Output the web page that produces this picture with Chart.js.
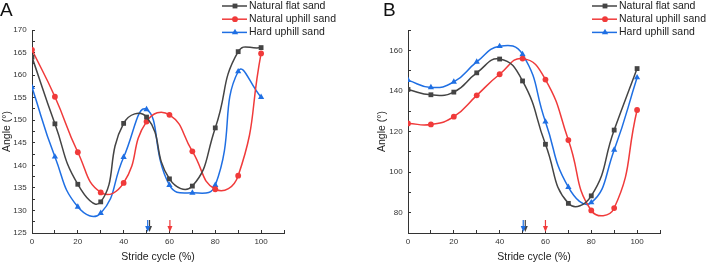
<!DOCTYPE html>
<html>
<head>
<meta charset="utf-8">
<script src="https://cdn.jsdelivr.net/npm/chart.js@4.4.1/dist/chart.umd.min.js"></script>
<style>
  body { margin: 0; background: #fff; }
  #wrap { position: relative; width: 706px; height: 264px; }
  .panel { position: absolute; top: 0; width: 353px; height: 264px; }
</style>
</head>
<body>
<div id="wrap">
  <div class="panel" style="left:0"><canvas id="chartA"></canvas></div>
  <div class="panel" style="left:353px"><canvas id="chartB"></canvas></div>
</div>
<script>
// stride cycle (%) sampled every 10
var strideCycle = [0, 10, 20, 30, 40, 50, 60, 70, 80, 90, 100];
var seriesNames = ["Natural flat sand", "Natural uphill sand", "Hard uphill sand"];

// panel A angles
var flatA   = [164.0, 149.2, 135.8, 131.9, 149.3, 150.7, 137.0, 135.4, 148.3, 165.2, 166.1];
var uphillA = [165.6, 155.2, 142.9, 134.0, 136.1, 149.7, 151.2, 143.1, 134.7, 137.7, 164.8];
var hardA   = [157.3, 141.9, 130.8, 129.4, 141.8, 152.4, 135.6, 133.9, 135.6, 160.8, 155.1];

// panel B angles
var flatB   = [140.7, 138.1, 139.4, 148.9, 155.7, 144.9, 113.7, 84.6, 88.3, 120.7, 151.0];
var uphillB = [124.0, 123.5, 127.3, 137.8, 148.2, 155.9, 145.6, 115.8, 81.1, 82.3, 130.6];
var hardB   = [145.3, 141.7, 144.4, 154.3, 162.0, 158.0, 124.8, 92.6, 85.0, 110.9, 146.6];

// arrow marks on the x axis (flat, uphill, hard)
var arrowsA = [51.3, 60.2, 50.5];
var arrowsB = [51.2, 60.0, 50.3];

var colors = ["#444444", "#f03a3a", "#1f6fe3"];
var styles = ["rect", "circle", "triangle"];
var radii = [3.4, 2.9, 3.6];

Chart.defaults.font.family = "'Liberation Sans', Arial, sans-serif";
Chart.defaults.color = "#333";

function points(vals) {
  return strideCycle.map(function (x, i) { return { x: x, y: vals[i] }; });
}

function marker(ctx, style, x, y, r) {
  ctx.beginPath();
  if (style === "rect") {
    var s = r * Math.SQRT1_2;
    ctx.rect(x - s, y - s, 2 * s, 2 * s);
  } else if (style === "circle") {
    ctx.arc(x, y, r, 0, Math.PI * 2);
  } else {
    ctx.moveTo(x, y - r);
    ctx.lineTo(x + r * 0.87, y + r * 0.5);
    ctx.lineTo(x - r * 0.87, y + r * 0.5);
    ctx.closePath();
  }
  ctx.fill();
}

var decor = {
  id: "decor",
  afterDatasetsDraw: function (chart, args, o) {
    var ctx = chart.ctx, xs = chart.scales.x, area = chart.chartArea;
    ctx.save();
    // arrows
    o.arrows.forEach(function (v, i) {
      var px = xs.getPixelForValue(v);
      var b = area.bottom;
      ctx.strokeStyle = colors[i];
      ctx.fillStyle = colors[i];
      ctx.lineWidth = 1.2;
      ctx.beginPath();
      ctx.moveTo(px, b - 13);
      ctx.lineTo(px, b - 5);
      ctx.stroke();
      ctx.beginPath();
      ctx.moveTo(px - 2.5, b - 7);
      ctx.lineTo(px + 2.5, b - 7);
      ctx.lineTo(px, b - 1);
      ctx.closePath();
      ctx.fill();
    });
    // legend
    ctx.font = "10.5px 'Liberation Sans', Arial, sans-serif";
    ctx.textBaseline = "middle";
    ctx.textAlign = "left";
    seriesNames.forEach(function (name, i) {
      var y = 6 + i * 13.2;
      ctx.strokeStyle = colors[i];
      ctx.fillStyle = colors[i];
      ctx.lineWidth = 1.5;
      ctx.beginPath();
      ctx.moveTo(o.legendX, y);
      ctx.lineTo(o.legendX + 25, y);
      ctx.stroke();
      marker(ctx, styles[i], o.legendX + 13, y, radii[i]);
      ctx.fillStyle = "#222";
      ctx.fillText(name, o.legendX + 27, y);
    });
    // panel letter
    ctx.font = "19px 'Liberation Sans', Arial, sans-serif";
    ctx.textBaseline = "alphabetic";
    ctx.fillStyle = "#111";
    ctx.fillText(o.letter, o.letterX, 16);
    ctx.restore();
  }
};

function makeChart(id, flat, uphill, hard, yMin, yMax, yStep, yLabelStep, padLeft, padRight, yWidth, deco) {
  var ctx = document.getElementById(id).getContext("2d");
  var vals = [flat, uphill, hard];
  var datasets = vals.map(function (v, i) {
    return {
      label: seriesNames[i],
      data: points(v),
      borderColor: colors[i],
      backgroundColor: colors[i],
      pointBackgroundColor: colors[i],
      pointBorderColor: colors[i],
      pointStyle: styles[i],
      pointRadius: radii[i],
      pointBorderWidth: 0,
      borderWidth: 1.5,
      tension: 0.5,
      fill: false
    };
  });
  return new Chart(ctx, {
    type: "line",
    data: { datasets: datasets },
    options: {
      responsive: true,
      maintainAspectRatio: false,
      animation: false,
      devicePixelRatio: 1,
      layout: { padding: { left: padLeft, right: padRight, top: 30, bottom: 0 } },
      plugins: {
        legend: { display: false },
        tooltip: { enabled: false },
        decor: deco
      },
      scales: {
        x: {
          type: "linear",
          min: 0,
          max: 110,
          afterFit: function (s) { s.height = 31; },
          grid: { drawOnChartArea: false, drawTicks: true, tickLength: -3, color: "#333" },
          border: { display: true, color: "#333", width: 1 },
          ticks: {
            stepSize: 10,
            autoSkip: false,
            maxRotation: 0,
            padding: 7,
            font: { size: 8 },
            callback: function (v) { return (v % 20 === 0 && v <= 100) ? v : ""; }
          },
          title: { display: true, text: "Stride cycle (%)", font: { size: 10.5 }, color: "#222", padding: { top: 0, bottom: 1 } }
        },
        y: {
          min: yMin,
          max: yMax,
          afterFit: function (s) { s.width = yWidth; },
          grid: { drawOnChartArea: false, drawTicks: true, tickLength: -3, color: "#333" },
          border: { display: true, color: "#333", width: 1 },
          ticks: {
            stepSize: yStep,
            autoSkip: false,
            padding: 8.3,
            font: { size: 8 },
            callback: function (v) { return v % yLabelStep === 0 ? v : ""; }
          },
          title: { display: true, text: "Angle (°)", font: { size: 10.5 }, color: "#222", padding: { top: 1, bottom: 0 } }
        }
      }
    },
    plugins: [decor]
  });
}

makeChart("chartA", flatA, uphillA, hardA, 125, 170, 2.5, 5, 0, 69, 32,
  { arrows: arrowsA, legendX: 222, letter: "A", letterX: 0 });
makeChart("chartB", flatB, uphillB, hardB, 70, 170, 10, 20, 22, 46, 33,
  { arrows: arrowsB, legendX: 239, letter: "B", letterX: 30 });
</script>
</body>
</html>
